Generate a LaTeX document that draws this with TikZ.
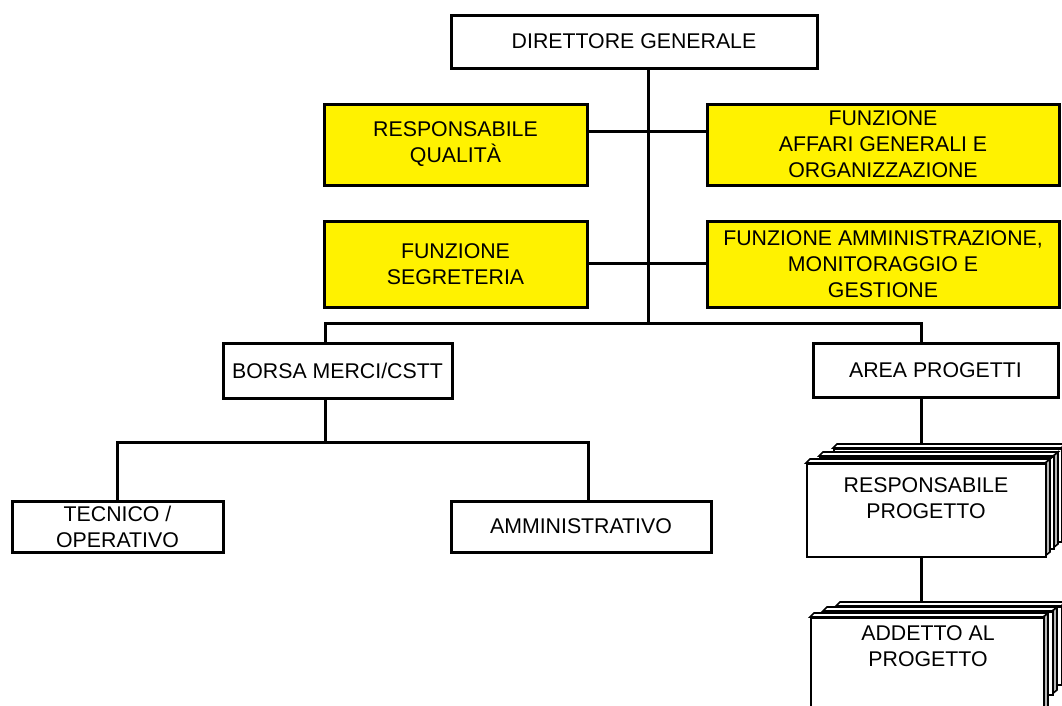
\documentclass[tikz,border=0pt]{standalone}
\usepackage{fontspec}
\setmainfont{Liberation Sans}
\newcommand\stkbox[5]{%
  \coordinate (#1t) at (#2,#3);
  \draw[sside] ({#4-5},{#3+4}) -- (#4,#3) -- (#4,{#5-4}) -- ({#4-5},#5) -- cycle;
  \draw[sface] (#2,{#3+4}) -- ({#2+4},#3) -- (#4,#3) -- ({#4-5},{#3+4}) -- cycle;
  \node[sface, minimum width={#4-5-#2}, minimum height={#5-#3-4}, inner sep=0pt, anchor=north west] (#1) at (#2,{#3+4}) {};
}
\begin{document}
\begin{tikzpicture}[x=1pt,y=-1pt,
  box/.style={draw, line width=3pt, fill=white, align=center, inner sep=1pt, font=\fontsize{21.3}{26}\selectfont},
  ybox/.style={box, fill=yellow},
  link/.style={line width=3pt},
  sface/.style={draw, line width=1.6pt, fill=white},
  sside/.style={draw, line width=1.6pt, fill=black!28},
  txt/.style={align=center, inner sep=0pt, font=\fontsize{21.3}{26}\selectfont}]
\useasboundingbox (0,0) rectangle (1062,705);

% coordinates for connectors
\coordinate (jdg) at (648,323);
\coordinate (jl) at (325,323);
\coordinate (jr) at (921,323);
\coordinate (r1) at (648,131);
\coordinate (r2) at (648,263);
\coordinate (jb) at (325,442);
\coordinate (sl) at (117,442);
\coordinate (sr) at (588,442);

% boxes
\node[box, minimum width=366, minimum height=53] (dg) at (634,41.5) {DIRETTORE GENERALE};
\node[ybox, minimum width=263, minimum height=81] (rq) at (455.5,144.5) {RESPONSABILE\\QUALITÀ};
\node[ybox, minimum width=352, minimum height=81] (aff) at (883,144.5) {FUNZIONE\\AFFARI GENERALI E\\ORGANIZZAZIONE};
\node[ybox, minimum width=263, minimum height=86] (seg) at (455.5,264) {FUNZIONE\\SEGRETERIA};
\node[ybox, minimum width=352, minimum height=86] (amm) at (883,264) {FUNZIONE AMMINISTRAZIONE,\\MONITORAGGIO E\\GESTIONE};
\node[box, minimum width=229, minimum height=55] (bm) at (337.5,370.5) {BORSA MERCI/CSTT};
\node[box, minimum width=245, minimum height=54] (ap) at (935.5,370) {AREA PROGETTI};
\node[box, minimum width=211, minimum height=51] (tec) at (117.5,526.5) {TECNICO /\\OPERATIVO};
\node[box, minimum width=260, minimum height=51] (adm) at (581,526.5) {AMMINISTRATIVO};

% stacked project boxes
\stkbox{rp3}{833}{444}{1066}{541}
\stkbox{rp2}{819}{452}{1058}{548}
\stkbox{rp1}{806}{459}{1050}{556}
\node[txt] (rpt) at (926,498.5) {RESPONSABILE\\PROGETTO};

\stkbox{ad3}{836}{602}{1066}{684}
\stkbox{ad2}{823}{607}{1057}{694}
\stkbox{ad1}{810}{613}{1048}{730}
\node[txt] (adt) at (928,646) {ADDETTO AL\\PROGETTO};

% connectors
\draw[link] (dg.south -| jdg) -- (jdg);
\draw[link] (rq.east |- r1) -- (aff.west |- r1);
\draw[link] (seg.east |- r2) -- (amm.west |- r2);
\draw[link] (bm.north -| jl) -- (jl) -- (jr) -- (ap.north -| jr);
\draw[link] (bm.south -| jb) -- (jb);
\draw[link] (tec.north -| sl) -- (sl) -- (sr) -- (adm.north -| sr);
\draw[link] (ap.south -| jr) -- (rp3t -| jr);
\draw[link] (rp1.south -| jr) -- (ad3t -| jr);
\end{tikzpicture}
\end{document}
